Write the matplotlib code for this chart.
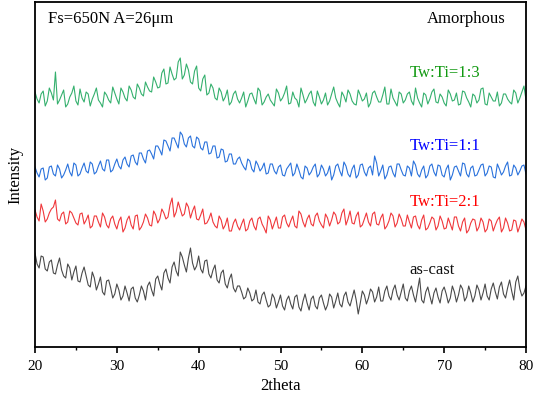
import numpy as np
import matplotlib
matplotlib.use("Agg")
import matplotlib.pyplot as plt

plt.rcParams['font.family'] = ['Liberation Serif', 'DejaVu Serif']

# Readings on a 0.5 degree grid (20.0 ... 80.0) and on the in-between grid (20.25 ... 79.75)
as_cast = [97, 82, 93, 79, 90, 76, 92, 74, 86, 70, 84, 68, 83, 65, 78, 60, 73, 55, 70, 52,
           66, 50, 64, 49, 63, 48, 64, 50, 68, 54, 74, 60, 81, 67, 88, 74, 93, 78, 102, 80,
           94, 77, 90, 72, 85, 67, 80, 62, 76, 58,
           64, 51, 62, 49, 60, 46, 58, 43, 56, 42,
           55, 40, 54, 41, 55, 39, 56, 40, 54, 41,
           55, 40, 56, 42, 57, 43, 58, 44, 60, 36,
           59, 46, 61, 48, 63, 49, 64, 50, 65, 50,
           66, 49, 64, 48, 72, 47, 63, 46, 62, 47,
           63, 47, 64, 48, 65, 49, 64, 48, 65, 50,
           66, 50, 67, 51, 68, 52, 70, 50, 74, 54,
           64]
as_cast_mid = [86, 94, 81, 88, 77, 85, 80, 72, 82, 78, 69, 77, 74, 63, 72, 66, 58, 69, 62, 56,
               60, 54, 57, 61, 52, 55, 59, 64, 60, 71, 66, 77, 72, 83, 79, 98, 85, 92, 87, 84,
               81, 89, 76, 80, 70, 77, 66, 71, 62, 64,
               58, 53, 57, 51, 48, 55, 50, 45, 52, 48,
               44, 50, 46, 53, 43, 49, 47, 51, 44, 52,
               47, 45, 53, 49, 46, 54, 48, 52, 50, 47,
               55, 52, 58, 53, 49, 59, 54, 60, 55, 58,
               52, 59, 55, 60, 50, 58, 54, 57, 53, 59,
               56, 52, 58, 55, 61, 53, 57, 54, 60, 57,
               54, 61, 58, 63, 56, 62, 59, 68, 61, 57]

tw_ti_2_1 = [140, 129, 139, 131, 141, 150, 129, 138, 128, 137, 127, 136, 126, 135, 124, 134, 123, 133, 122, 134,
             121, 133, 122, 134, 121, 135, 123, 136, 125, 139, 127, 141, 131, 145, 133, 148, 134, 147, 132, 144,
             130, 141, 127, 137, 124, 134, 121, 132, 119, 131,
             120, 131, 121, 132, 120, 133, 122, 134, 121, 133,
             122, 135, 123, 134, 122, 136, 123, 135, 124, 137,
             125, 136, 124, 138, 126, 137, 125, 139, 126, 138,
             125, 137, 124, 138, 125, 136, 124, 137, 123, 136,
             124, 135, 122, 134, 121, 135, 122, 133, 120, 134,
             121, 132, 120, 133, 119, 132, 120, 131, 119, 132,
             118, 131, 119, 130, 118, 132, 119, 130, 118, 131,
             120]
tw_ti_2_1_mid = [133, 146, 128, 137, 143, 131, 136, 126, 139, 132, 125, 137, 130, 122, 134, 128, 137, 125, 131, 126,
                 129, 118, 130, 125, 134, 120, 128, 132, 124, 135, 131, 137, 133, 152, 138, 141, 136, 143, 139, 131,
                 135, 126, 131, 128, 122, 130, 125, 119, 127, 124,
                 126, 119, 129, 124, 131, 126, 117, 130, 127, 122,
                 133, 127, 129, 124, 139, 128, 131, 126, 134, 129,
                 122, 132, 130, 135, 128, 141, 131, 127, 134, 123,
                 131, 128, 136, 126, 132, 121, 129, 134, 127, 131,
                 124, 128, 133, 125, 130, 120, 127, 131, 124, 129,
                 122, 126, 133, 124, 128, 117, 127, 130, 123, 128,
                 121, 129, 125, 133, 122, 127, 120, 129, 124, 128]

tw_ti_1_1 = [183, 173, 182, 172, 184, 174, 181, 175, 186, 174, 185, 176, 187, 177, 186, 178, 189, 179, 190, 180,
             191, 181, 193, 183, 195, 185, 197, 187, 200, 191, 204, 195, 209, 199, 212, 202, 215, 203, 214, 202,
             211, 200, 208, 197, 204, 193, 200, 189, 196, 186,
             193, 183, 191, 181, 189, 179, 187, 177, 186, 176,
             185, 174, 184, 174, 186, 173, 184, 175, 183, 173,
             185, 174, 184, 175, 186, 174, 184, 173, 185, 175,
             186, 174, 184, 194, 174, 185, 175, 184, 173, 186,
             175, 184, 174, 185, 173, 184, 175, 186, 174, 184,
             173, 185, 175, 184, 174, 186, 173, 184, 175, 185,
             174, 184, 173, 186, 175, 184, 174, 185, 175, 184,
             176]
tw_ti_1_1_mid = [177, 181, 170, 183, 176, 185, 172, 180, 178, 187, 174, 182, 179, 188, 176, 184, 181, 190, 178, 186,
                 184, 190, 186, 194, 188, 197, 191, 199, 196, 204, 200, 210, 204, 212, 207, 218, 206, 212, 204, 213,
                 202, 208, 196, 204, 192, 201, 188, 196, 186, 191,
                 187, 180, 189, 178, 185, 182, 176, 186, 179, 183,
                 175, 181, 187, 177, 180, 171, 182, 178, 186, 176,
                 181, 177, 170, 184, 179, 188, 176, 181, 172, 185,
                 178, 182, 175, 187, 179, 171, 183, 177, 186, 180,
                 174, 182, 189, 176, 180, 172, 184, 178, 185, 175,
                 181, 170, 183, 179, 187, 176, 182, 174, 180, 186,
                 177, 183, 172, 181, 178, 188, 175, 182, 179, 185]

tw_ti_1_3 = [258, 247, 259, 249, 257, 278, 250, 260, 246, 257, 249, 261, 248, 256, 251, 262, 247, 258, 250, 263,
             251, 262, 252, 264, 253, 266, 256, 268, 259, 273, 262, 277, 266, 283, 270, 288, 271, 286, 268, 279,
             262, 271, 255, 266, 252, 262, 249, 260, 248, 259,
             247, 258, 249, 257, 246, 259, 248, 256, 247, 261,
             249, 257, 246, 258, 250, 262, 247, 256, 248, 259,
             246, 257, 249, 263, 247, 258, 248, 256, 246, 260,
             249, 257, 247, 259, 248, 255, 246, 261, 248, 258,
             247, 256, 249, 262, 247, 257, 246, 258, 248, 256,
             247, 260, 249, 257, 246, 258, 248, 256, 247, 261,
             246, 257, 249, 258, 247, 256, 248, 260, 247, 258,
             250]
tw_ti_1_3_mid = [251, 256, 244, 262, 250, 246, 255, 243, 253, 264, 245, 252, 258, 244, 256, 250, 243, 255, 247, 257,
                 246, 258, 249, 260, 251, 262, 254, 263, 258, 268, 263, 281, 267, 276, 272, 292, 275, 280, 266, 284,
                 259, 275, 257, 262, 250, 258, 253, 245, 256, 251,
                 252, 243, 256, 251, 262, 245, 253, 250, 244, 257,
                 252, 264, 247, 252, 243, 255, 251, 259, 244, 253,
                 250, 245, 256, 252, 243, 254, 260, 249, 245, 255,
                 251, 243, 257, 253, 248, 263, 246, 252, 244, 256,
                 250, 258, 245, 252, 243, 255, 251, 261, 247, 253,
                 244, 256, 250, 245, 259, 252, 243, 254, 250, 262,
                 245, 253, 249, 244, 256, 251, 246, 257, 252, 264]

series_names = ["as-cast", "Tw:Ti=2:1", "Tw:Ti=1:1", "Tw:Ti=1:3"]
series_main = [as_cast, tw_ti_2_1, tw_ti_1_1, tw_ti_1_3]
series_mid = [as_cast_mid, tw_ti_2_1_mid, tw_ti_1_1_mid, tw_ti_1_3_mid]
line_colors = ["#4a4a4a", "#f0383c", "#2a72dc", "#35b06e"]
text_colors = ["#111111", "#ff0000", "#0000ff", "#119911"]
label_y = [80, 148, 204, 277]

x_ticks = [20, 30, 40, 50, 60, 70, 80]

fig = plt.figure(figsize=(5.33, 3.98), dpi=100)
ax = fig.add_axes([35/533, (398-347)/398, (526-35)/533, (347-2)/398])

for main, mid, col in zip(series_main, series_mid, line_colors):
    x_main = np.linspace(20.0, 80.0, len(main))
    x_mid = np.linspace(20.25, 79.75, len(mid))
    x = np.concatenate([x_main, x_mid])
    y = np.concatenate([np.asarray(main, float), np.asarray(mid, float)])
    order = np.argsort(x)
    ax.plot(x[order], y[order], color=col, lw=0.8)

for name, ty, tc in zip(series_names, label_y, text_colors):
    ax.text(65.8, ty, name, color=tc, fontsize=12, ha='left', va='center')

ax.text(21.6, 331, "Fs=650N A=26μm", fontsize=12, ha='left', va='center')
ax.text(77.5, 331, "Amorphous", fontsize=12, ha='right', va='center')

ax.set_xlim(20, 80)
ax.set_ylim(3, 348)
ax.set_xticks(x_ticks)
ax.set_xticks(range(25, 80, 10), minor=True)
ax.set_yticks([])
ax.tick_params(axis='x', which='major', direction='out', length=4, width=1.2, labelsize=11, pad=5)
ax.tick_params(axis='x', which='minor', direction='out', length=2.5, width=1.0)
for s in ax.spines.values():
    s.set_linewidth(1.3)
ax.set_xlabel("2theta", fontsize=12, labelpad=4)
ax.set_ylabel("Intensity", fontsize=12, labelpad=8)

fig.savefig("out.png", dpi=100)
